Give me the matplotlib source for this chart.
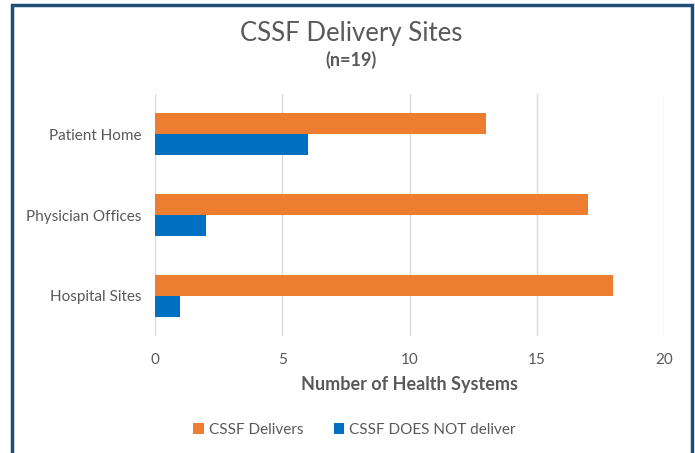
import matplotlib.pyplot as plt
import matplotlib.patches as mpatches
import numpy as np

categories = ["Patient Home", "Physician Offices", "Hospital Sites"]
delivers = [13, 17, 18]
not_deliver = [6, 2, 1]
xticks = [0, 5, 10, 15, 20]

ORANGE = "#ED7D31"
BLUE = "#0070C0"
GRAY = "#595959"


def main():
    plt.rcParams["font.family"] = ["Lato", "DejaVu Sans"]
    fig = plt.figure(figsize=(6.95, 4.53), dpi=100)

    # navy frame around the chart
    fig.patches.append(mpatches.Rectangle((12 / 695, -0.05), 680 / 695, 1.05 - 5 / 453,
                                          transform=fig.transFigure, fill=False,
                                          edgecolor="#1F4E79", linewidth=2.5))

    ax = fig.add_axes([155 / 695, 1 - 336 / 453, 509 / 695, 242 / 453])
    y = np.arange(len(categories))
    h = 0.26
    ax.barh(y - h / 2, delivers, height=h, color=ORANGE, label="CSSF Delivers")
    ax.barh(y + h / 2, not_deliver, height=h, color=BLUE, label="CSSF DOES NOT deliver")

    ax.set_ylim(2.5, -0.5)
    ax.set_xlim(0, 20)
    ax.set_xticks(xticks)
    ax.set_yticks(y)
    ax.set_yticklabels(categories)
    ax.tick_params(axis="both", length=0, labelsize=11, labelcolor=GRAY)
    ax.tick_params(axis="x", pad=12)
    ax.tick_params(axis="y", pad=10)
    ax.grid(axis="x", color="#D9D9D9", linewidth=1)
    ax.set_axisbelow(True)
    for s in ax.spines.values():
        s.set_visible(False)

    ax.set_xlabel("Number of Health Systems", fontsize=13, fontweight="bold",
                  color=GRAY, labelpad=7)

    fig.text(0.505, 1 - 33 / 453, "CSSF Delivery Sites", ha="center", va="center",
             fontsize=18.5, color=GRAY)
    fig.text(0.505, 1 - 60 / 453, "(n=19)", ha="center", va="center",
             fontsize=13, fontweight="bold", color=GRAY)

    fig.legend(loc="center", bbox_to_anchor=(0.51, 1 - 430 / 453), ncol=2,
               frameon=False, fontsize=11, labelcolor=GRAY, handlelength=0.7,
               handleheight=0.7, handletextpad=0.3, columnspacing=2.0)

    fig.savefig("out.png", dpi=100, facecolor="white")


if __name__ == "__main__":
    main()
